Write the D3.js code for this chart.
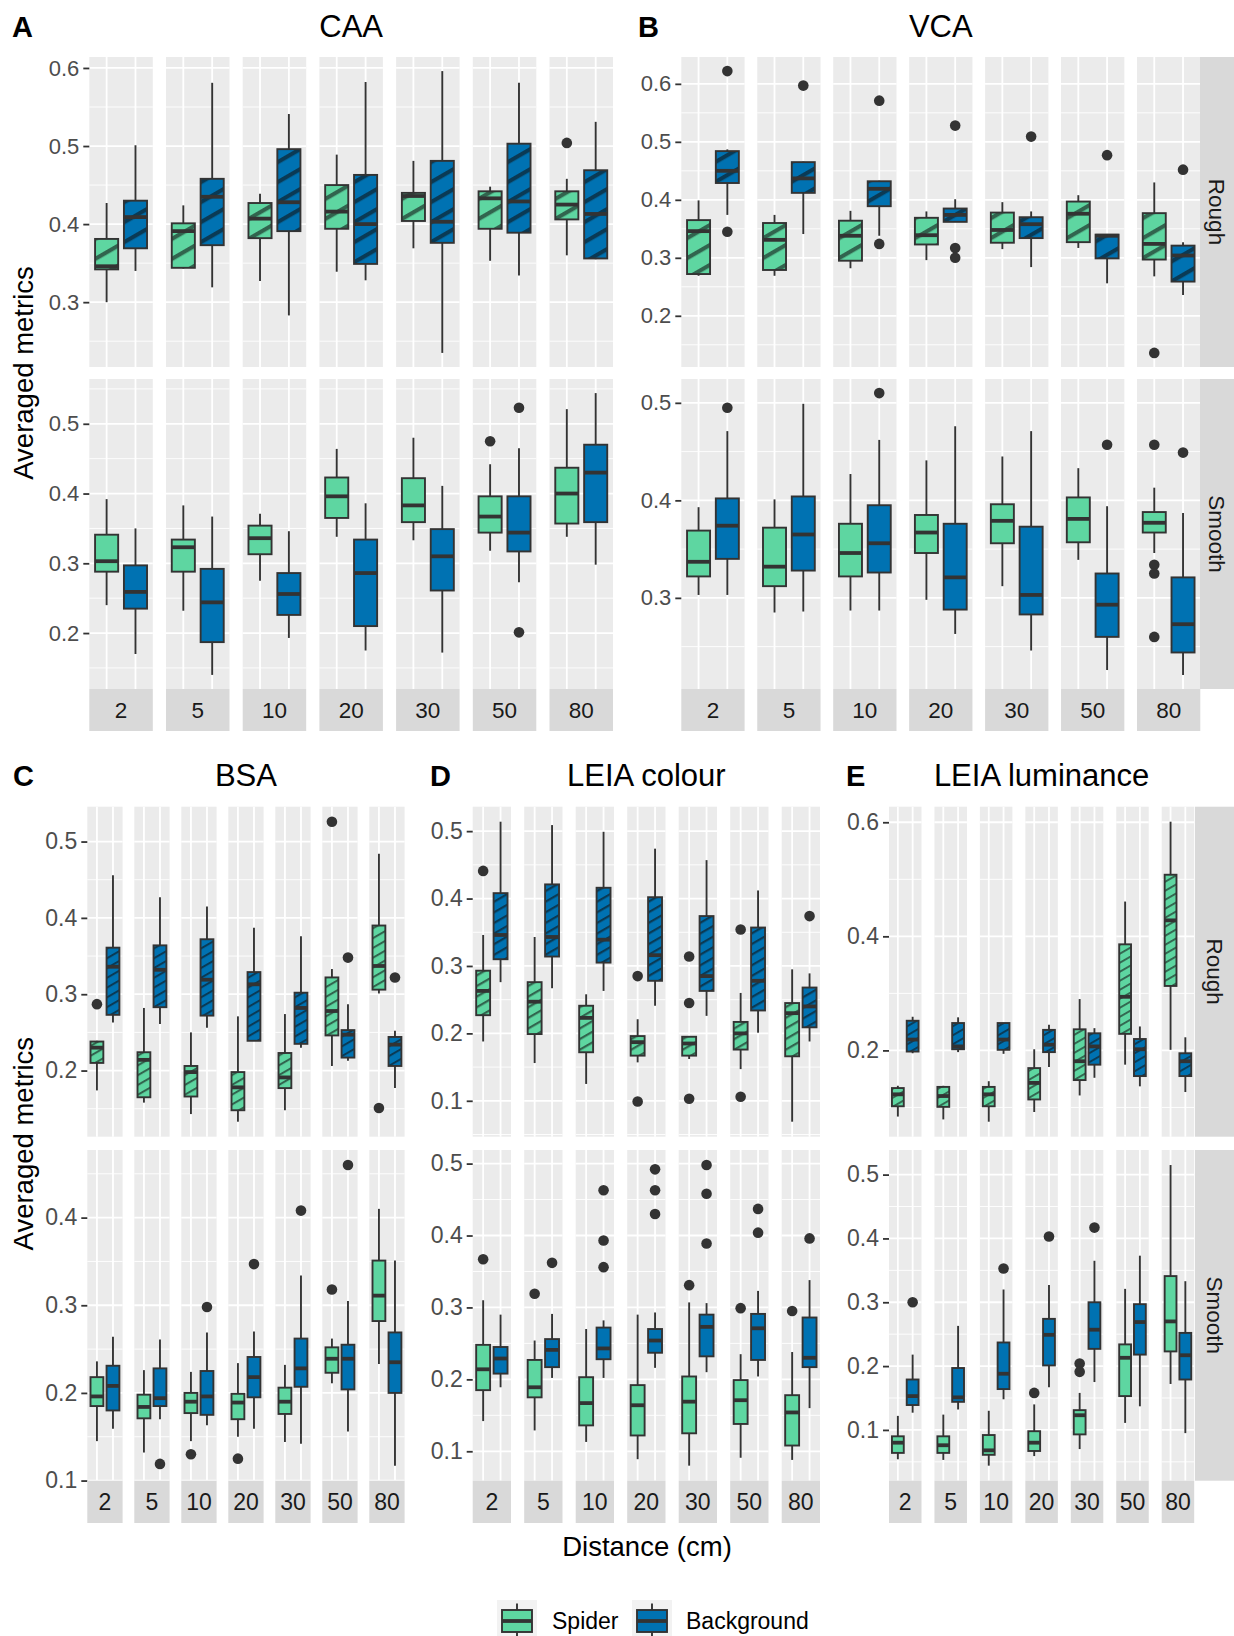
<!DOCTYPE html>
<html><head><meta charset="utf-8">
<script src="https://cdn.jsdelivr.net/npm/d3@7"></script>
<style>
body{margin:0;background:#fff}
svg{display:block}
</style>
</head><body>
<svg id="chart" width="1234" height="1636"></svg>
<script>
// ---------------- DATA ----------------
const distances = ["2","5","10","20","30","50","80"];
const types = ["Spider","Background"];
const textures = ["Rough","Smooth"];
const metrics = ["CAA","VCA","BSA","LEIA colour","LEIA luminance"];
const panelLetters = ["A","B","C","D","E"];
const yAxisTitle = "Averaged metrics";
const xAxisTitle = "Distance (cm)";

// box stats per distance: [lower whisker, Q1, median, Q3, upper whisker]
const caaRoughSpider = [[0.300,0.342,0.346,0.381,0.427],[0.343,0.344,0.391,0.401,0.424],[0.327,0.382,0.407,0.427,0.439],[0.339,0.394,0.416,0.450,0.489],[0.369,0.404,0.436,0.440,0.481],[0.353,0.394,0.433,0.442,0.448],[0.360,0.406,0.425,0.442,0.458]];
const caaRoughBackground = [[0.340,0.369,0.409,0.430,0.501],[0.319,0.373,0.435,0.458,0.581],[0.283,0.391,0.428,0.496,0.541],[0.328,0.349,0.400,0.463,0.582],[0.235,0.376,0.403,0.481,0.596],[0.334,0.389,0.429,0.503,0.581],[0.355,0.356,0.413,0.469,0.531]];
const caaSmoothSpider = [[0.240,0.288,0.303,0.341,0.392],[0.232,0.288,0.323,0.334,0.383],[0.275,0.313,0.336,0.354,0.371],[0.338,0.365,0.396,0.423,0.464],[0.333,0.359,0.383,0.422,0.480],[0.318,0.344,0.367,0.396,0.442],[0.338,0.357,0.400,0.437,0.521]];
const caaSmoothBackground = [[0.170,0.235,0.259,0.297,0.350],[0.140,0.187,0.244,0.292,0.367],[0.193,0.226,0.256,0.286,0.346],[0.175,0.210,0.286,0.334,0.386],[0.172,0.261,0.310,0.349,0.411],[0.273,0.317,0.344,0.396,0.465],[0.298,0.359,0.430,0.470,0.544]];

const vcaRoughSpider = [[0.269,0.272,0.346,0.365,0.399],[0.269,0.279,0.331,0.360,0.374],[0.282,0.295,0.338,0.364,0.381],[0.296,0.323,0.339,0.369,0.380],[0.315,0.326,0.348,0.378,0.396],[0.317,0.327,0.376,0.397,0.408],[0.268,0.297,0.324,0.377,0.430]];
const vcaRoughBackground = [[0.374,0.429,0.450,0.484,0.487],[0.341,0.412,0.437,0.465,0.466],[0.338,0.389,0.419,0.432,0.433],[0.362,0.362,0.374,0.385,0.401],[0.284,0.334,0.358,0.370,0.380],[0.256,0.299,0.338,0.340,0.341],[0.236,0.259,0.304,0.321,0.327]];
const vcaSmoothSpider = [[0.303,0.322,0.337,0.369,0.393],[0.285,0.312,0.332,0.372,0.401],[0.287,0.322,0.346,0.376,0.427],[0.298,0.346,0.367,0.385,0.441],[0.312,0.356,0.379,0.396,0.445],[0.339,0.357,0.381,0.403,0.433],[0.346,0.367,0.377,0.388,0.413]];
const vcaSmoothBackground = [[0.303,0.340,0.374,0.402,0.471],[0.286,0.328,0.365,0.404,0.499],[0.287,0.326,0.356,0.395,0.462],[0.263,0.288,0.321,0.376,0.476],[0.246,0.283,0.303,0.373,0.471],[0.226,0.260,0.293,0.325,0.394],[0.221,0.244,0.273,0.321,0.387]];

const bsaRoughSpider = [[0.174,0.210,0.230,0.238,0.239],[0.158,0.165,0.214,0.224,0.282],[0.143,0.166,0.198,0.206,0.250],[0.133,0.148,0.178,0.198,0.271],[0.148,0.177,0.191,0.223,0.274],[0.206,0.246,0.278,0.322,0.333],[0.301,0.306,0.337,0.390,0.484]];
const bsaRoughBackground = [[0.263,0.273,0.336,0.361,0.456],[0.261,0.283,0.332,0.364,0.427],[0.256,0.272,0.319,0.372,0.415],[0.239,0.239,0.313,0.329,0.387],[0.230,0.235,0.282,0.302,0.376],[0.213,0.217,0.247,0.253,0.287],[0.177,0.206,0.234,0.244,0.252]];
const bsaSmoothSpider = [[0.145,0.185,0.196,0.218,0.236],[0.132,0.171,0.184,0.198,0.226],[0.145,0.177,0.190,0.200,0.224],[0.150,0.170,0.189,0.199,0.234],[0.144,0.176,0.190,0.206,0.232],[0.211,0.223,0.239,0.252,0.262],[0.233,0.282,0.311,0.351,0.410]];
const bsaSmoothBackground = [[0.159,0.180,0.208,0.231,0.264],[0.170,0.185,0.194,0.228,0.261],[0.163,0.175,0.196,0.225,0.269],[0.159,0.195,0.218,0.241,0.270],[0.142,0.207,0.228,0.262,0.334],[0.156,0.204,0.239,0.255,0.305],[0.117,0.200,0.235,0.269,0.351]];

const leiaColRoughSpider = [[0.188,0.227,0.263,0.293,0.346],[0.156,0.199,0.247,0.276,0.343],[0.125,0.172,0.223,0.241,0.258],[0.157,0.167,0.187,0.196,0.221],[0.162,0.167,0.185,0.195,0.196],[0.147,0.176,0.200,0.217,0.260],[0.069,0.166,0.230,0.245,0.295]];
const leiaColRoughBackground = [[0.276,0.310,0.346,0.408,0.514],[0.267,0.314,0.343,0.421,0.509],[0.263,0.305,0.339,0.416,0.499],[0.241,0.278,0.316,0.402,0.474],[0.226,0.263,0.285,0.374,0.457],[0.201,0.234,0.278,0.357,0.412],[0.188,0.209,0.240,0.268,0.289]];
const leiaColSmoothSpider = [[0.142,0.185,0.214,0.248,0.310],[0.129,0.175,0.189,0.227,0.254],[0.113,0.136,0.167,0.203,0.270],[0.089,0.122,0.164,0.192,0.290],[0.080,0.125,0.169,0.204,0.307],[0.091,0.138,0.171,0.199,0.235],[0.088,0.108,0.154,0.178,0.238]];
const leiaColSmoothBackground = [[0.189,0.208,0.229,0.245,0.290],[0.202,0.217,0.241,0.256,0.291],[0.202,0.228,0.243,0.272,0.282],[0.216,0.237,0.254,0.270,0.293],[0.210,0.232,0.273,0.290,0.306],[0.204,0.227,0.271,0.291,0.323],[0.160,0.217,0.230,0.286,0.338]];

const leiaLumRoughSpider = [[0.084,0.102,0.123,0.134,0.138],[0.079,0.101,0.120,0.136,0.138],[0.075,0.102,0.123,0.136,0.146],[0.092,0.114,0.143,0.169,0.202],[0.121,0.148,0.181,0.237,0.290],[0.175,0.229,0.294,0.386,0.461],[0.201,0.313,0.428,0.508,0.601]];
const leiaLumRoughBackground = [[0.195,0.198,0.219,0.252,0.259],[0.197,0.202,0.207,0.248,0.258],[0.194,0.201,0.219,0.248,0.248],[0.171,0.197,0.210,0.236,0.245],[0.152,0.175,0.207,0.230,0.239],[0.137,0.155,0.202,0.220,0.242],[0.127,0.155,0.181,0.195,0.223]];
const leiaLumSmoothSpider = [[0.054,0.064,0.080,0.090,0.122],[0.053,0.064,0.076,0.090,0.124],[0.044,0.061,0.068,0.092,0.130],[0.059,0.067,0.080,0.098,0.140],[0.070,0.093,0.123,0.131,0.158],[0.111,0.153,0.213,0.234,0.321],[0.172,0.223,0.270,0.341,0.515]];
const leiaLumSmoothBackground = [[0.127,0.139,0.153,0.179,0.218],[0.132,0.144,0.151,0.197,0.263],[0.148,0.164,0.188,0.237,0.320],[0.167,0.201,0.249,0.274,0.327],[0.175,0.227,0.257,0.300,0.365],[0.137,0.218,0.269,0.297,0.373],[0.095,0.179,0.217,0.252,0.333]];

// outliers per distance
const caaRoughSpiderOut = [[],[],[],[],[],[],[0.504]];
const caaRoughBackgroundOut = [[],[],[],[],[],[],[]];
const caaSmoothSpiderOut = [[],[],[],[],[],[0.475],[]];
const caaSmoothBackgroundOut = [[],[],[],[],[],[0.523,0.201],[]];
const vcaRoughSpiderOut = [[],[],[],[],[],[],[0.136]];
const vcaRoughBackgroundOut = [[0.622,0.345],[0.597],[0.571,0.324],[0.528,0.317,0.300],[0.509],[0.477],[0.452]];
const vcaSmoothSpiderOut = [[],[],[],[],[],[],[0.457,0.334,0.325,0.260]];
const vcaSmoothBackgroundOut = [[0.495],[],[0.510],[],[],[0.457],[0.449]];
const bsaRoughSpiderOut = [[0.287],[],[],[],[],[0.526],[0.151]];
const bsaRoughBackgroundOut = [[],[],[],[],[],[0.348],[0.322]];
const bsaSmoothSpiderOut = [[],[],[0.130],[0.125],[],[0.318],[]];
const bsaSmoothBackgroundOut = [[],[0.119],[0.298],[0.347],[0.408],[0.460],[]];
const leiaColRoughSpiderOut = [[0.441],[],[],[0.285,0.099],[0.314,0.245,0.103],[0.354,0.106],[]];
const leiaColRoughBackgroundOut = [[],[],[],[],[],[],[0.374]];
const leiaColSmoothSpiderOut = [[0.367],[0.319],[],[],[0.331],[0.299],[0.295]];
const leiaColSmoothBackgroundOut = [[],[0.362],[0.463,0.393,0.356],[0.492,0.463,0.430],[0.498,0.458,0.389],[0.437,0.404],[0.396]];
const leiaLumRoughSpiderOut = [[],[],[],[],[],[],[]];
const leiaLumRoughBackgroundOut = [[],[],[],[],[],[],[]];
const leiaLumSmoothSpiderOut = [[],[],[],[0.158],[0.204,0.191],[],[]];
const leiaLumSmoothBackgroundOut = [[0.300],[],[0.353],[0.403],[0.417],[],[]];

const boxStats = {
  "CAA|Rough|Spider": caaRoughSpider, "CAA|Rough|Background": caaRoughBackground,
  "CAA|Smooth|Spider": caaSmoothSpider, "CAA|Smooth|Background": caaSmoothBackground,
  "VCA|Rough|Spider": vcaRoughSpider, "VCA|Rough|Background": vcaRoughBackground,
  "VCA|Smooth|Spider": vcaSmoothSpider, "VCA|Smooth|Background": vcaSmoothBackground,
  "BSA|Rough|Spider": bsaRoughSpider, "BSA|Rough|Background": bsaRoughBackground,
  "BSA|Smooth|Spider": bsaSmoothSpider, "BSA|Smooth|Background": bsaSmoothBackground,
  "LEIA colour|Rough|Spider": leiaColRoughSpider, "LEIA colour|Rough|Background": leiaColRoughBackground,
  "LEIA colour|Smooth|Spider": leiaColSmoothSpider, "LEIA colour|Smooth|Background": leiaColSmoothBackground,
  "LEIA luminance|Rough|Spider": leiaLumRoughSpider, "LEIA luminance|Rough|Background": leiaLumRoughBackground,
  "LEIA luminance|Smooth|Spider": leiaLumSmoothSpider, "LEIA luminance|Smooth|Background": leiaLumSmoothBackground
};
const boxOutliers = {
  "CAA|Rough|Spider": caaRoughSpiderOut, "CAA|Rough|Background": caaRoughBackgroundOut,
  "CAA|Smooth|Spider": caaSmoothSpiderOut, "CAA|Smooth|Background": caaSmoothBackgroundOut,
  "VCA|Rough|Spider": vcaRoughSpiderOut, "VCA|Rough|Background": vcaRoughBackgroundOut,
  "VCA|Smooth|Spider": vcaSmoothSpiderOut, "VCA|Smooth|Background": vcaSmoothBackgroundOut,
  "BSA|Rough|Spider": bsaRoughSpiderOut, "BSA|Rough|Background": bsaRoughBackgroundOut,
  "BSA|Smooth|Spider": bsaSmoothSpiderOut, "BSA|Smooth|Background": bsaSmoothBackgroundOut,
  "LEIA colour|Rough|Spider": leiaColRoughSpiderOut, "LEIA colour|Rough|Background": leiaColRoughBackgroundOut,
  "LEIA colour|Smooth|Spider": leiaColSmoothSpiderOut, "LEIA colour|Smooth|Background": leiaColSmoothBackgroundOut,
  "LEIA luminance|Rough|Spider": leiaLumRoughSpiderOut, "LEIA luminance|Rough|Background": leiaLumRoughBackgroundOut,
  "LEIA luminance|Smooth|Spider": leiaLumSmoothSpiderOut, "LEIA luminance|Smooth|Background": leiaLumSmoothBackgroundOut
};

// ---------------- STYLE / LAYOUT ----------------
const FONT = '"Liberation Sans", Arial, Helvetica, sans-serif';
const fillColor = d3.scaleOrdinal().domain(types).range(["#5ED6A1", "#0072B2"]);
const INK = "#333333";
const LW = 1.9;

const layout = [
  {x0: 89.3, step: 76.7, fw: 63.5, rows: [[57,367],[379,689]], strip: [689,731], side: null, tick: 22, stripFont: 22.5, titleY: 37, letterX: 12, hatch: 0.75},
  {x0: 681.3, step: 75.95, fw: 63.3, rows: [[57,367],[379,689]], strip: [689,731], side: [1200,1234], tick: 22, stripFont: 22.5, titleY: 37, letterX: 638, hatch: 0.75},
  {x0: 87.3, step: 47.0, fw: 35.3, rows: [[806.7,1136.7],[1150,1480.7]], strip: [1480.7,1523], side: null, tick: 23, stripFont: 23, titleY: 786, letterX: 13, hatch: 0.66},
  {x0: 472.7, step: 51.5, fw: 38.3, rows: [[806.7,1136.7],[1150,1480.7]], strip: [1480.7,1523], side: null, tick: 23, stripFont: 23, titleY: 786, letterX: 430, hatch: 0.66},
  {x0: 889, step: 45.45, fw: 32.5, rows: [[806.7,1136.7],[1150,1480.7]], strip: [1480.7,1523], side: [1195,1234], tick: 23, stripFont: 23, titleY: 786, letterX: 846, hatch: 0.66}
];

const svg = d3.select("#chart").attr("font-family", FONT);
svg.append("rect").attr("width",1234).attr("height",1636).attr("fill","#fff");
const defs = svg.append("defs");

metrics.forEach((metric, mi) => {
  const L = layout[mi];
  const g = svg.append("g");
  const fxScale = d3.scaleBand().domain(distances)
    .range([L.x0, L.x0 + 6*L.step + L.fw])
    .paddingInner(1 - L.fw / L.step).paddingOuter(0);
  const fw = fxScale.bandwidth();
  const xType = d3.scalePoint().domain(types).range([0, fw]).padding(0.6);
  const bw = 0.8 * xType.step();
  const S = L.hatch * bw;
  defs.append("pattern").attr("id", "hatch" + mi)
    .attr("patternUnits", "userSpaceOnUse")
    .attr("width", S).attr("height", S)
    .attr("patternTransform", "rotate(-30)")
    .append("rect").attr("x", 0).attr("y", 0).attr("width", S).attr("height", S * 0.24)
    .attr("fill", "#111").attr("fill-opacity", 0.58);

  textures.forEach((tex, ri) => {
    const [top, bottom] = L.rows[ri];
    const all = [];
    types.forEach(t => {
      const k = metric + "|" + tex + "|" + t;
      boxStats[k].forEach(s => all.push(...s));
      boxOutliers[k].forEach(o => all.push(...o));
    });
    const [lo, hi] = d3.extent(all);
    const pad = (hi - lo) * 0.05;
    const y = d3.scaleLinear().domain([lo - pad, hi + pad]).range([bottom, top]);
    const major = y.ticks(4);
    const st = major[1] - major[0];
    const minor = [];
    for (let v = major[0] - st/2; v <= y.domain()[1] + 1e-9; v += st) if (v >= y.domain()[0]) minor.push(v);

    distances.forEach((d, di) => {
      const pg = g.append("g").attr("transform", `translate(${fxScale(d)},0)`);
      pg.append("rect").attr("x",0).attr("y",top).attr("width",fw).attr("height",bottom-top).attr("fill","#EBEBEB");
      pg.selectAll(".mn").data(minor).join("line")
        .attr("x1",0).attr("x2",fw).attr("y1",v=>y(v)).attr("y2",v=>y(v))
        .attr("stroke","#fff").attr("stroke-width",0.9);
      pg.selectAll(".mj").data(major).join("line")
        .attr("x1",0).attr("x2",fw).attr("y1",v=>y(v)).attr("y2",v=>y(v))
        .attr("stroke","#fff").attr("stroke-width",1.8);
      pg.selectAll(".vx").data(types).join("line")
        .attr("x1",t=>xType(t)).attr("x2",t=>xType(t)).attr("y1",top).attr("y2",bottom)
        .attr("stroke","#fff").attr("stroke-width",1.8);

      types.forEach(t => {
        const k = metric + "|" + tex + "|" + t;
        const s = boxStats[k][di];
        const cx = xType(t);
        const bg = pg.append("g");
        bg.append("line").attr("x1",cx).attr("x2",cx).attr("y1",y(s[3])).attr("y2",y(s[4])).attr("stroke",INK).attr("stroke-width",LW);
        bg.append("line").attr("x1",cx).attr("x2",cx).attr("y1",y(s[1])).attr("y2",y(s[0])).attr("stroke",INK).attr("stroke-width",LW);
        const bh = Math.max(0.5, y(s[1]) - y(s[3]));
        bg.append("rect").attr("x",cx-bw/2).attr("y",y(s[3])).attr("width",bw).attr("height",bh).attr("fill",fillColor(t));
        if (tex === "Rough") {
          bg.append("rect").attr("x",cx-bw/2).attr("y",y(s[3])).attr("width",bw).attr("height",bh).attr("fill",`url(#hatch${mi})`);
        }
        bg.append("rect").attr("x",cx-bw/2).attr("y",y(s[3])).attr("width",bw).attr("height",bh)
          .attr("fill","none").attr("stroke",INK).attr("stroke-width",LW);
        bg.append("line").attr("x1",cx-bw/2).attr("x2",cx+bw/2).attr("y1",y(s[2])).attr("y2",y(s[2])).attr("stroke",INK).attr("stroke-width",LW*2);
        bg.selectAll("circle").data(boxOutliers[k][di]).join("circle")
          .attr("cx",cx).attr("cy",v=>y(v)).attr("r",5.3).attr("fill",INK);
      });
    });

    const axis = d3.axisLeft(y).tickValues(major).tickSize(6).tickPadding(4).tickFormat(d3.format(".1f"));
    const ag = g.append("g").attr("transform",`translate(${L.x0},0)`).call(axis)
      .attr("font-family", FONT).attr("font-size", L.tick);
    ag.select(".domain").remove();
    ag.selectAll(".tick line").attr("stroke",INK).attr("stroke-width",1.8);
    ag.selectAll(".tick text").attr("fill","#4D4D4D");

    if (L.side) {
      g.append("rect").attr("x",L.side[0]).attr("y",top).attr("width",L.side[1]-L.side[0]).attr("height",bottom-top).attr("fill","#D9D9D9");
      g.append("text").attr("transform",`translate(${(L.side[0]+L.side[1])/2},${(top+bottom)/2}) rotate(90)`)
        .attr("text-anchor","middle").attr("dy","0.35em").attr("font-size",22.5).attr("fill","#1A1A1A").text(tex);
    }
  });

  // bottom strips
  distances.forEach(d => {
    g.append("rect").attr("x",fxScale(d)).attr("y",L.strip[0]).attr("width",fw).attr("height",L.strip[1]-L.strip[0]).attr("fill","#D9D9D9");
    g.append("text").attr("x",fxScale(d)+fw/2).attr("y",(L.strip[0]+L.strip[1])/2).attr("dy","0.35em")
      .attr("text-anchor","middle").attr("font-size",L.stripFont).attr("fill","#1A1A1A").text(d);
  });

  // title and panel letter
  const [fx0, fx1] = fxScale.range();
  g.append("text").attr("x",(fx0+fx1)/2).attr("y",L.titleY).attr("text-anchor","middle")
    .attr("font-size",31).attr("fill","#000").text(metric);
  g.append("text").attr("x",L.letterX).attr("y",L.titleY).attr("font-size",29).attr("font-weight","bold")
    .attr("fill","#000").text(panelLetters[mi]);
});

// y axis titles
[[57,689],[806.7,1480.7]].forEach(([a,b]) => {
  svg.append("text").attr("transform",`translate(33,${(a+b)/2}) rotate(-90)`).attr("text-anchor","middle")
    .attr("font-size",27.5).attr("fill","#000").text(yAxisTitle);
});
// x axis title
svg.append("text").attr("x",647).attr("y",1556).attr("text-anchor","middle").attr("font-size",27.5).attr("fill","#000").text(xAxisTitle);

// legend
const legendPos = [{key: 497, label: 552}, {key: 632, label: 686}];
types.forEach((t, i) => {
  const lg = svg.append("g");
  const kx = legendPos[i].key;
  lg.append("rect").attr("x",kx).attr("y",1600).attr("width",40).attr("height",40).attr("fill","#F2F2F2");
  lg.append("line").attr("x1",kx+20).attr("x2",kx+20).attr("y1",1603.5).attr("y2",1640).attr("stroke",INK).attr("stroke-width",LW);
  lg.append("rect").attr("x",kx+5).attr("y",1610).attr("width",30).attr("height",22).attr("fill",fillColor(t)).attr("stroke",INK).attr("stroke-width",LW);
  lg.append("line").attr("x1",kx+5).attr("x2",kx+35).attr("y1",1621).attr("y2",1621).attr("stroke",INK).attr("stroke-width",LW*2);
  lg.append("text").attr("x",legendPos[i].label).attr("y",1629).attr("font-size",23).attr("fill","#000").text(t);
});
</script>
</body></html>
